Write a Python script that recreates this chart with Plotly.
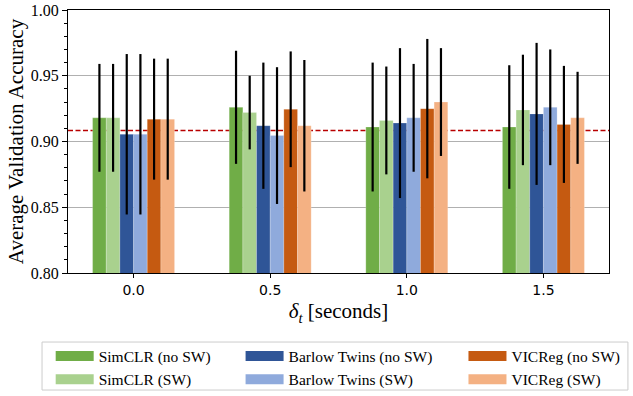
import plotly.graph_objects as go

# ---------------- data ----------------
deltas = [0.0, 0.5, 1.0, 1.5]
tick_labels = ["0.0", "0.5", "1.0", "1.5"]

series_names = ["SimCLR (no SW)", "SimCLR (SW)",
                "Barlow Twins (no SW)", "Barlow Twins (SW)",
                "VICReg (no SW)", "VICReg (SW)"]

simclr_nosw = [0.918, 0.926, 0.911, 0.911]
simclr_nosw_err = [0.041, 0.043, 0.049, 0.047]
simclr_sw = [0.918, 0.922, 0.916, 0.924]
simclr_sw_err = [0.041, 0.028, 0.041, 0.042]
barlow_nosw = [0.9055, 0.912, 0.914, 0.921]
barlow_nosw_err = [0.061, 0.048, 0.057, 0.054]
barlow_sw = [0.9055, 0.9045, 0.918, 0.926]
barlow_sw_err = [0.061, 0.052, 0.041, 0.044]
vicreg_nosw = [0.917, 0.9245, 0.925, 0.913]
vicreg_nosw_err = [0.046, 0.044, 0.053, 0.0445]
vicreg_sw = [0.917, 0.912, 0.930, 0.918]
vicreg_sw_err = [0.046, 0.050, 0.041, 0.035]

baseline = 0.9083

# ---------------- styling ----------------
colors = ["#70ad47", "#a9d18e", "#2f5597", "#8faadc", "#c55a11", "#f4b183"]
values = [simclr_nosw, simclr_sw, barlow_nosw, barlow_sw, vicreg_nosw, vicreg_sw]
errors = [simclr_nosw_err, simclr_sw_err, barlow_nosw_err, barlow_sw_err,
          vicreg_nosw_err, vicreg_sw_err]
bar_w = 0.05
legend_ids = ["legend", "legend", "legend2", "legend2", "legend3", "legend3"]

FONT = "Liberation Serif"

fig = go.Figure()
for i, (name, vals, errs, col) in enumerate(zip(series_names, values, errors, colors)):
    fig.add_trace(go.Bar(
        x=deltas, y=vals, name=name, width=bar_w, offset=-3 * bar_w + i * bar_w,
        marker=dict(color=col, line=dict(color="rgba(255,255,255,0.35)", width=0.6)),
        error_y=dict(type="data", array=errs, color="black", thickness=2.2, width=0),
        showlegend=False,
    ))

# legend entries (wide rectangular swatches)
for i, (name, col) in enumerate(zip(series_names, colors)):
    fig.add_trace(go.Scatter(
        x=[None], y=[None], mode="lines", name=name,
        line=dict(color=col, width=10), legend=legend_ids[i], showlegend=True,
    ))

fig.add_shape(type="line", xref="paper", x0=0, x1=1, yref="y", y0=baseline, y1=baseline,
              line=dict(color="#b80000", width=1.5, dash="5px,2.5px"), layer="below")

# legend frame
fig.add_shape(type="rect", xref="paper", yref="paper",
              x0=-0.048, x1=1.035, y0=-0.445, y1=-0.2625,
              line=dict(color="#cccccc", width=1), fillcolor="rgba(0,0,0,0)")

leg_common = dict(orientation="v", yanchor="top", xanchor="left", y=-0.253,
                  bgcolor="rgba(0,0,0,0)", borderwidth=0, itemwidth=38,
                  font=dict(family=FONT, size=15.5, color="black"), tracegroupgap=0)

fig.update_layout(
    width=633, height=396,
    margin=dict(l=68, r=24, t=10, b=123, autoexpand=False),
    paper_bgcolor="white", plot_bgcolor="white",
    barmode="overlay",
    font=dict(family=FONT, color="black"),
    xaxis=dict(
        range=[-0.24, 1.74], tickvals=deltas, ticktext=tick_labels,
        ticks="outside", ticklen=4, tickwidth=1, tickcolor="black",
        tickfont=dict(family="DejaVu Sans", size=14, color="black"),
        showline=True, linecolor="black", linewidth=1.2, mirror=True,
        showgrid=False, zeroline=False,
        title=dict(text="<i>δ</i><sub><i>t</i></sub> [seconds]",
                   font=dict(family=FONT, size=21), standoff=6),
    ),
    yaxis=dict(
        range=[0.80, 1.00], dtick=0.05, tickformat=".2f",
        ticks="outside", ticklen=5, tickwidth=1, tickcolor="black",
        tickfont=dict(family=FONT, size=16, color="black"),
        minor=dict(dtick=0.01, ticks="outside", ticklen=3, tickcolor="black", showgrid=False),
        showline=True, linecolor="black", linewidth=1.2, mirror=True,
        showgrid=True, gridcolor="#b0b0b0", gridwidth=1, zeroline=False,
        title=dict(text="Average Validation Accuracy", font=dict(family=FONT, size=21), standoff=1),
    ),
    legend=dict(x=-0.032, **leg_common),
    legend2=dict(x=0.319, **leg_common),
    legend3=dict(x=0.731, **leg_common),
)

fig.write_html("out.html", config={"displayModeBar": False},
               post_script="document.body.style.margin='0px';")
